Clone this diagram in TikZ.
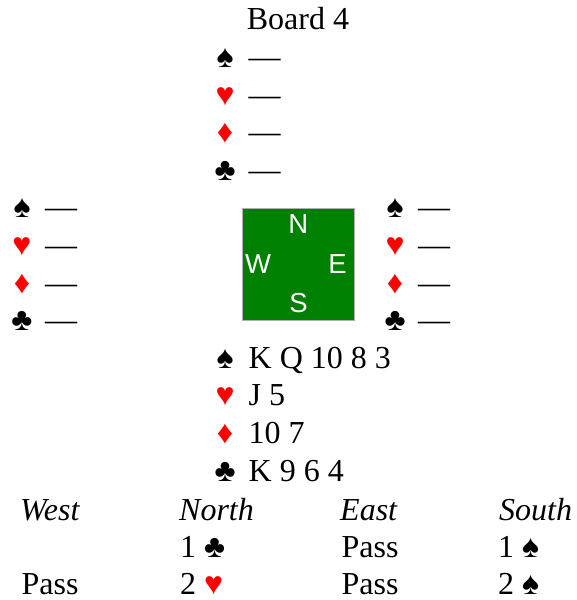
\documentclass[tikz,border=0pt]{standalone}
\usepackage{fontspec}
\setmainfont{Liberation Serif}
\newfontfamily\compassfont{Liberation Sans}
\definecolor{feltgreen}{RGB}{0,128,0}
\definecolor{suitred}{RGB}{255,0,0}
\definecolor{boxgray}{RGB}{175,175,175}
\newcommand\suitspade{♠}
\newcommand\suitheart{♥}
\newcommand\suitdiamond{♦}
\newcommand\suitclub{♣}
% one hand: name, suit-column x, text x, first baseline, four holdings
\newcommand\drawhand[8]{%
  \node[suitsym] (#1-s) at (#2,#4) {\suitspade};
  \node[txt] (#1-st) at (#3,#4) {#5};
  \node[suitsym,text=suitred] (#1-h) at (#2,#4+37.6) {\suitheart};
  \node[txt] (#1-ht) at (#3,#4+37.6) {#6};
  \node[suitsym,text=suitred] (#1-d) at (#2,#4+75.2) {\suitdiamond};
  \node[txt] (#1-dt) at (#3,#4+75.2) {#7};
  \node[suitsym] (#1-c) at (#2,#4+112.8) {\suitclub};
  \node[txt] (#1-ct) at (#3,#4+112.8) {#8};
}
\begin{document}
\begin{tikzpicture}[x=1pt,y=-1pt,
  txt/.style={anchor=base west, inner sep=0pt, font=\fontsize{32}{38}\selectfont},
  suitsym/.style={anchor=base, inner sep=0pt, font=\fontsize{32}{38}\selectfont},
  head/.style={txt, font=\fontsize{32}{38}\selectfont\itshape},
  compass/.style={inner sep=0pt, text=white, font=\compassfont\fontsize{27.5}{31}\selectfont}]
\useasboundingbox (0,0) rectangle (577,600);

\node[suitsym] (title) at (298,29.3) {Board 4};

% the four hands
\drawhand{north}{225}{248.5}{67.4}{—}{—}{—}{—}
\drawhand{west}{22}{45}{217.8}{—}{—}{—}{—}
\drawhand{east}{395}{418}{217.8}{—}{—}{—}{—}
\drawhand{south}{225}{248.5}{368.2}{K Q 10 8 3}{J 5}{10 7}{K 9 6 4}

% the table
\node[draw=boxgray, line width=1pt, fill=feltgreen, minimum size=112pt, inner sep=0pt] (table) at (298,264) {};
\node[compass] (cN) at (298.3,224.5) {N};
\node[compass] (cW) at (258,264) {W};
\node[compass] (cE) at (337.5,264) {E};
\node[compass] (cS) at (298.5,303.5) {S};

% the auction
\node[head] (hW) at (20,520.5) {West};
\node[head] (hN) at (179,520.5) {North};
\node[head] (hE) at (340,520.5) {East};
\node[head] (hS) at (499,520.5) {South};

\node[txt] (b1) at (180,557.7) {1 \suitclub};
\node[txt] (b2) at (341.5,557.7) {Pass};
\node[txt] (b3) at (498,557.7) {1 \suitspade};
\node[txt] (b4) at (21.5,594.5) {Pass};
\node[txt] (b5) at (180,594.5) {2 \textcolor{suitred}{\suitheart}};
\node[txt] (b6) at (341.5,594.5) {Pass};
\node[txt] (b7) at (498,594.5) {2 \suitspade};
\end{tikzpicture}
\end{document}
